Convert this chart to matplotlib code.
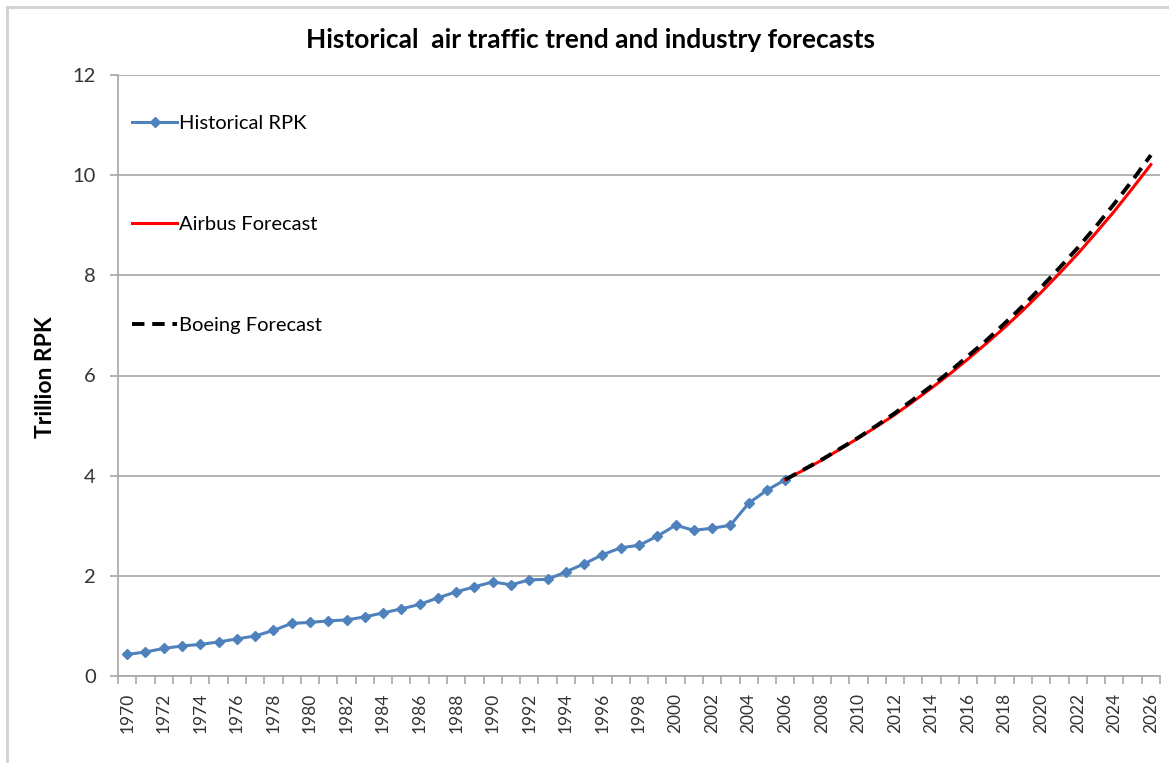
import matplotlib
matplotlib.use("Agg")
import matplotlib.pyplot as plt
from matplotlib.lines import Line2D
import numpy as np

# ---- data ----
hist_years = list(range(1970, 2007))
hist_rpk = [0.43, 0.48, 0.55, 0.60, 0.63, 0.68, 0.74, 0.80, 0.91, 1.05,
            1.07, 1.10, 1.12, 1.18, 1.26, 1.34, 1.43, 1.56, 1.68, 1.78,
            1.88, 1.82, 1.92, 1.93, 2.08, 2.24, 2.42, 2.56, 2.61, 2.79,
            3.01, 2.91, 2.95, 3.01, 3.45, 3.71, 3.92]

fc_years = list(range(2006, 2027))
airbus_rpk = [3.92, 4.11, 4.31, 4.53, 4.75, 4.98, 5.22, 5.48, 5.75, 6.03,
              6.33, 6.64, 6.96, 7.30, 7.66, 8.04, 8.43, 8.85, 9.28, 9.74, 10.21]
boeing_rpk = [3.92, 4.12, 4.32, 4.54, 4.76, 5.00, 5.25, 5.52, 5.79, 6.08,
              6.39, 6.70, 7.04, 7.39, 7.76, 8.15, 8.55, 8.98, 9.43, 9.90, 10.40]

tick_years = list(range(1970, 2027, 2))
y_ticks = [0, 2, 4, 6, 8, 10, 12]

plt.rcParams['font.family'] = ['Lato', 'DejaVu Sans']

W, H = 1169, 763
fig = plt.figure(figsize=(W / 100, H / 100), dpi=100)
ax = fig.add_axes([118 / W, 1 - 676 / H, (1160 - 118) / W, (676 - 75) / H])

# chart frame (left and top edges visible in the reference)
fig.add_artist(Line2D([7 / W, 7 / W], [0, 1 - 7 / H], transform=fig.transFigure,
                      color='#d0d0d0', linewidth=2))
fig.add_artist(Line2D([7 / W, 1], [1 - 7 / H, 1 - 7 / H], transform=fig.transFigure,
                      color='#d0d0d0', linewidth=2))

grid_c = '#a6a6a6'
ax.set_axisbelow(True)
ax.yaxis.grid(True, color=grid_c, linewidth=1.2)

ax.plot(hist_years, hist_rpk, color='#4f81bd', linewidth=2.2, marker='D',
        markersize=5.5, markerfacecolor='#4f81bd', markeredgecolor='#4f81bd',
        label='Historical RPK', zorder=3)
ax.plot(fc_years, airbus_rpk, color='#ff0000', linewidth=2.2,
        label='Airbus Forecast', zorder=4)
ax.plot(fc_years, boeing_rpk, color='black', linewidth=2.8,
        dashes=(3.2, 2.0), label='Boeing Forecast', zorder=5)

ax.set_xlim(1969.5, 2026.5)
ax.set_ylim(0, 12)
ax.set_yticks(y_ticks)
ax.set_yticklabels([str(v) for v in y_ticks], fontsize=14.5, color='#333333')
ax.set_xticks(tick_years)
ax.set_xticklabels([str(y) for y in tick_years], rotation=90, fontsize=12.5,
                   color='#333333')
ax.set_xticks(np.arange(1969.5, 2027, 1.0), minor=True)
ax.tick_params(axis='x', which='major', length=0, pad=12)
ax.tick_params(axis='x', which='minor', length=6, color=grid_c, width=1.2)
ax.tick_params(axis='y', length=6, color=grid_c, width=1.2, pad=10)

for s in ['top', 'right']:
    ax.spines[s].set_visible(False)
for s in ['left', 'bottom']:
    ax.spines[s].set_color(grid_c)
    ax.spines[s].set_linewidth(1.2)

fig.text(45 / W, 1 - 377 / H, 'Trillion RPK', rotation=90, fontsize=16.5,
         fontweight='bold', ha='center', va='center')
fig.text(590 / W, 1 - 40 / H, 'Historical  air traffic trend and industry forecasts',
         fontsize=19, fontweight='bold', ha='center', va='center')

leg = ax.legend(loc='upper left', bbox_to_anchor=(0.0, 0.957), frameon=False,
                fontsize=14.5, labelspacing=4.17, handlelength=2.25,
                handletextpad=0.1, borderaxespad=0.3)

fig.savefig('out.png', dpi=100)
